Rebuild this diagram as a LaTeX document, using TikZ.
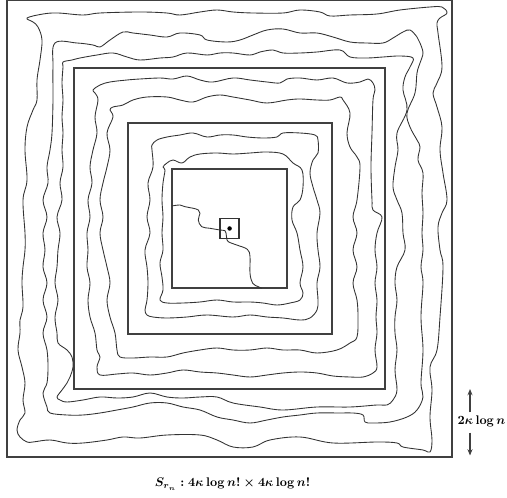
\documentclass[tikz,border=0pt]{standalone}
\usepackage{amsmath,amssymb,bm}
\usetikzlibrary{calc, positioning, arrows.meta}

\begin{document}
\begin{tikzpicture}[x=0.8pt, y=-0.8pt,
    box/.style={draw=black!75, line width=1.5pt},
    walk/.style={draw=black!80, line width=0.7pt, line join=round},
    dimarrow/.style={draw=black!75, line width=1pt, -{Stealth[length=5pt, width=4pt]}},
    label/.style={inner sep=0pt, font=\boldmath}]
    \useasboundingbox (0,0) rectangle (507,498);
    \coordinate (o) at (229.6,228.5);

    % nested boxes
    \foreach \hw/\hh in {222.4/228.8, 155.5/160.7, 102/105.7, 57.8/59.8}
        \draw[box] ($(o)+(-\hw,-\hh)$) rectangle ($(o)+(\hw,\hh)$);
    \draw[draw=black!80, line width=1pt] ($(o)+(-9.5,-10)$) rectangle ($(o)+(9.5,10)$);
    \fill[black] (o) circle (1.8pt);

    % outer band
    \draw[walk] plot[smooth cycle, tension=0.6] coordinates {
        (27,18) (43,14) (58,13) (83,15) (100,13) (140,12) (167,13) (180,15)
        (200,12) (217,10) (233,12) (253,13) (283,13) (300,10) (320,12) (330,16)
        (350,15) (377,14) (400,10) (430,7) (442,7) (447,13) (440,18) (437,23)
        (438,33) (442,67) (437,83) (433,93) (437,107) (442,127) (440,150) (443,173)
        (447,200) (442,213) (438,227) (440,250) (443,267) (440,317) (437,350) (430,367)
        (432,390) (430,417) (432,440) (430,452) (423,450) (403,447) (397,443) (377,442)
        (333,443) (300,437) (270,440) (253,447) (233,447) (217,440) (200,435) (167,435)
        (140,438) (123,437) (107,440) (83,443) (67,443) (50,440) (33,442) (27,442)
        (20,437) (17,430) (20,420) (25,413) (23,400) (25,383) (22,367) (18,350)
        (20,333) (20,320) (23,307) (22,283) (23,267) (25,250) (25,233) (23,200)
        (27,180) (25,150) (27,127) (33,110) (37,100) (37,80) (40,60) (42,40)
        (38,27) (33,22)};
    \draw[walk] plot[smooth cycle, tension=0.6] coordinates {
        (55,43) (77,43) (93,45) (100,47) (110,40) (123,32) (133,33) (150,35)
        (167,37) (180,33) (200,35) (207,40) (227,42) (240,40) (253,35) (267,30)
        (283,29) (300,33) (317,33) (333,37) (350,42) (367,43) (383,43) (393,38)
        (403,32) (410,30) (417,37) (420,43) (423,53) (420,63) (417,73) (415,93)
        (407,113) (410,127) (417,140) (420,147) (418,160) (423,173) (422,193) (423,213)
        (422,233) (423,250) (421,267) (423,283) (421,317) (423,350) (421,383) (423,397)
        (417,410) (407,417) (390,422) (373,423) (365,422) (363,415) (353,413) (340,413)
        (317,413) (300,415) (283,417) (267,420) (250,423) (233,420) (217,417) (200,410)
        (183,407) (167,403) (150,403) (133,407) (117,410) (100,413) (83,415) (67,415)
        (50,413) (47,407) (43,393) (47,383) (48,367) (47,350) (43,333) (47,317)
        (43,300) (47,283) (43,267) (45,250) (43,233) (47,217) (43,200) (48,183)
        (47,167) (50,150) (52,133) (53,100) (53,67)};
    \draw[walk] plot[smooth cycle, tension=0.6] coordinates {
        (63,62) (72,60) (80,58) (97,55) (113,53) (127,57) (140,60) (160,58)
        (173,57) (187,53) (207,55) (220,53) (233,53) (250,55) (260,52) (273,50)
        (283,53) (300,53) (317,52) (340,50) (350,57) (367,58) (383,57) (400,56)
        (413,58) (410,67) (405,77) (403,90) (407,110) (397,133) (398,150) (395,167)
        (393,187) (397,200) (402,213) (403,233) (405,250) (397,267) (395,283) (397,300)
        (395,317) (395,333) (397,350) (395,370) (397,390) (393,400) (387,405) (377,405)
        (350,407) (317,407) (283,410) (260,407) (233,403) (217,397) (200,397) (183,398)
        (167,397) (150,393) (133,397) (117,398) (100,397) (83,400) (67,402) (60,400)
        (57,397) (62,390) (67,383) (70,377) (73,367) (72,357) (67,350) (58,343)
        (57,333) (55,317) (58,300) (55,283) (57,267) (58,250) (60,233) (57,217)
        (62,200) (60,183) (63,167) (62,150) (63,133) (62,117) (63,100) (62,83)
        (63,67)};

    % middle band
    \draw[walk] plot[smooth cycle, tension=0.6] coordinates {
        (93,90) (100,85) (110,82) (127,80) (140,79) (160,78) (173,79) (187,76)
        (200,80) (213,82) (233,78) (250,80) (267,82) (280,83) (287,79) (300,78)
        (317,80) (333,78) (347,83) (360,82) (368,79) (373,83) (375,90) (373,100)
        (372,133) (371,167) (372,200) (373,210) (382,217) (377,233) (375,250) (377,267)
        (375,283) (377,300) (376,317) (377,333) (375,350) (377,367) (373,373) (363,377)
        (350,377) (333,376) (317,373) (300,372) (283,373) (267,375) (250,377) (233,375)
        (217,373) (200,372) (183,370) (167,373) (150,375) (133,373) (117,374) (100,375)
        (97,367) (100,357) (97,350) (95,333) (90,317) (88,300) (90,283) (87,267)
        (88,250) (87,233) (90,217) (88,200) (92,183) (90,167) (93,150) (97,133)
        (95,117) (98,100) (95,93)};
    \draw[walk] plot[smooth cycle, tension=0.6] coordinates {
        (110,110) (113,107) (123,105) (133,100) (147,97) (167,97) (180,100) (193,102)
        (207,97) (220,95) (233,97) (250,100) (267,103) (287,100) (300,99) (317,100)
        (330,100) (340,97) (343,100) (350,113) (347,133) (350,147) (357,157) (360,167)
        (357,200) (353,217) (357,233) (353,250) (357,267) (353,283) (357,300) (358,317)
        (357,337) (350,343) (337,350) (317,353) (300,350) (283,350) (267,348) (250,350)
        (233,350) (217,348) (200,350) (183,353) (167,357) (150,357) (133,358) (120,357)
        (117,350) (115,333) (110,317) (107,300) (110,283) (107,267) (103,250) (100,233)
        (103,217) (100,200) (103,183) (107,167) (110,150) (107,133) (113,117)};

    % inner band
    \draw[walk] plot[smooth cycle, tension=0.6] coordinates {
        (152,145) (157,140) (167,137) (180,135) (193,133) (207,137) (220,135) (233,135)
        (247,137) (263,138) (277,137) (283,133) (300,133) (315,135) (318,140) (318,153)
        (313,160) (310,173) (313,187) (317,200) (320,213) (317,233) (318,250) (320,267)
        (317,283) (318,300) (317,310) (310,318) (300,320) (283,318) (267,317) (250,315)
        (233,317) (207,315) (187,317) (167,318) (153,317) (147,315) (145,310) (147,300)
        (148,283) (147,267) (145,250) (150,233) (147,217) (150,200) (148,183) (153,167)
        (152,150)};
    \draw[walk] plot[smooth cycle, tension=0.6] coordinates {
        (163,167) (167,163) (173,160) (182,163) (190,157) (200,154) (217,153) (233,154)
        (250,153) (267,152) (283,154) (293,163) (302,170) (303,187) (300,200) (293,207)
        (292,220) (297,233) (300,250) (303,267) (300,283) (303,293) (300,300) (290,303)
        (277,305) (263,303) (250,302) (233,302) (217,300) (200,302) (183,303) (167,303)
        (160,300) (163,290) (162,277) (160,263) (163,250) (162,233) (163,217) (162,200)
        (163,183) (165,170)};

    % walk through the centre
    \draw[walk] plot[smooth, tension=0.6] coordinates {
        (171.8,206) (180,205) (185,206.7) (193.3,208.3) (198.3,210) (200,213.3)
        (198.3,220) (201.7,226.7) (210,228.3) (220,230) (225,230.7) (226,233)
        (226.7,238) (228.3,241.7) (236.7,245) (247.3,249.3) (250,256.7) (250,273.3)
        (252.7,283.3) (258.3,286.7) (261.7,288.3)};

    % width of a band
    \node[label] (wlab) at (481.5,425) [anchor=base] {$2\kappa\log n$};
    \coordinate (wtop) at (470,389);
    \coordinate (wbot) at (470,455.5);
    \draw[dimarrow] ([yshift=3pt]wlab.north -| wtop) -- (wtop);
    \draw[dimarrow] ([yshift=-4pt]wlab.south -| wbot) -- (wbot);

    \node[label] (cap) at (232.5,487) [anchor=base] {$S_{r_n}: 4\kappa\log n!\times 4\kappa\log n!$};
\end{tikzpicture}
\end{document}
